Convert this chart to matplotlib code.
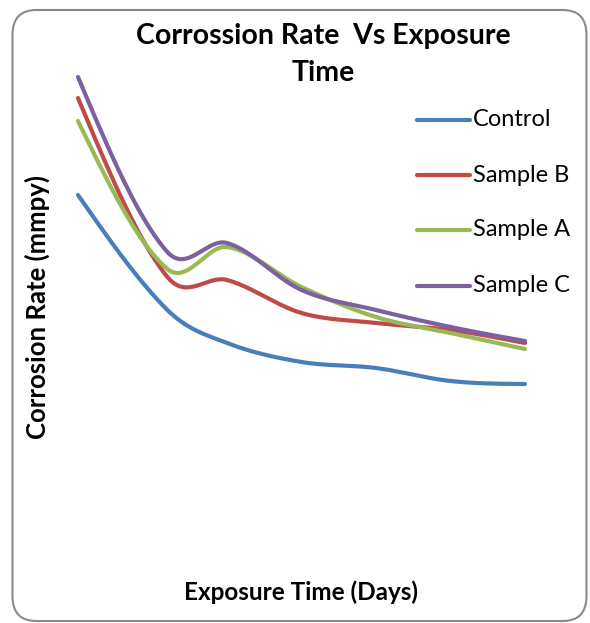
import numpy as np
import matplotlib
matplotlib.use("Agg")
import matplotlib.pyplot as plt
from matplotlib.patches import FancyBboxPatch
from matplotlib.lines import Line2D

# Exposure time (days) and corrosion rate (mmpy) for each specimen
days = [0, 6, 10, 15, 20, 25, 30]
control = [3.60, 2.45, 2.12, 1.93, 1.87, 1.74, 1.71]
sample_b = [4.57, 2.78, 2.75, 2.42, 2.32, 2.25, 2.12]
sample_a = [4.34, 2.86, 3.08, 2.68, 2.38, 2.22, 2.06]
sample_c = [4.78, 3.03, 3.12, 2.65, 2.45, 2.28, 2.14]

names = ["Control", "Sample B", "Sample A", "Sample C"]
colors = ["#4A7EBB", "#BE4B48", "#98B954", "#7D60A0"]
values = [control, sample_b, sample_a, sample_c]


def smooth(x, y, n=60):
    """Piecewise cubic Hermite curve with finite-difference tangents."""
    x = np.asarray(x, float)
    y = np.asarray(y, float)
    m = np.empty_like(y)
    m[1:-1] = (y[2:] - y[:-2]) / (x[2:] - x[:-2])
    d0 = (y[1] - y[0]) / (x[1] - x[0])
    dn = (y[-1] - y[-2]) / (x[-1] - x[-2])
    m[0] = (3 * d0 - m[1]) / 2
    m[-1] = (3 * dn - m[-2]) / 2
    xs, ys = [], []
    t = np.linspace(0, 1, n)
    h00 = 2 * t**3 - 3 * t**2 + 1
    h10 = t**3 - 2 * t**2 + t
    h01 = -2 * t**3 + 3 * t**2
    h11 = t**3 - t**2
    for i in range(len(x) - 1):
        h = x[i + 1] - x[i]
        xs.extend(x[i] + t * h)
        ys.extend(h00 * y[i] + h10 * h * m[i] + h01 * y[i + 1] + h11 * h * m[i + 1])
    return np.array(xs), np.array(ys)


W, H = 590, 623
fig = plt.figure(figsize=(W / 100, H / 100), dpi=100)
fig.patch.set_facecolor("white")

# rounded chart frame
frame = FancyBboxPatch((12.5 / W, 2 / H), 574 / W, 611 / H,
                       boxstyle="round,pad=0,rounding_size=0.04",
                       transform=fig.transFigure, facecolor="white",
                       edgecolor="#8a8a8a", linewidth=1.5, zorder=0)
fig.add_artist(frame)

# plot area
left, right, top, bottom = 78, 525, 55, 555
ax = fig.add_axes([left / W, (H - bottom) / H, (right - left) / W, (bottom - top) / H])
ax.set_xlim(0, 30)
ax.set_ylim(0, 5)
ax.axis("off")

for name, vals, col in zip(names, values, colors):
    sx, sy = smooth(days, vals)
    ax.plot(sx, sy, color=col, lw=3.0, solid_capstyle="round",
            clip_on=False, label=name)

font = "Lato"
fig.text(323 / W, 1 - 36 / H, "Corrossion Rate  Vs Exposure", ha="center", va="center",
         fontsize=20.5, fontweight="bold", family=font)
fig.text(323 / W, 1 - 73 / H, "Time", ha="center", va="center",
         fontsize=20.5, fontweight="bold", family=font)
fig.text(37 / W, 1 - 307 / H, "Corrosion Rate (mmpy)", ha="center", va="center",
         rotation=90, fontsize=18.5, fontweight="bold", family=font)
fig.text(301 / W, 1 - 592 / H, "Exposure Time (Days)", ha="center", va="center",
         fontsize=17.5, fontweight="bold", family=font)

# legend entries on the right
row_y = [120, 175, 230, 286]
for name, col, yy in zip(names, colors, row_y):
    fy = 1 - yy / H
    fig.add_artist(Line2D([417 / W, 470 / W], [fy, fy], color=col, lw=3.0,
                          solid_capstyle="round", transform=fig.transFigure))
    fig.text(473 / W, fy, name, ha="left", va="center", fontsize=17,
             family=font)

fig.savefig("out.png", dpi=100, facecolor="white")
